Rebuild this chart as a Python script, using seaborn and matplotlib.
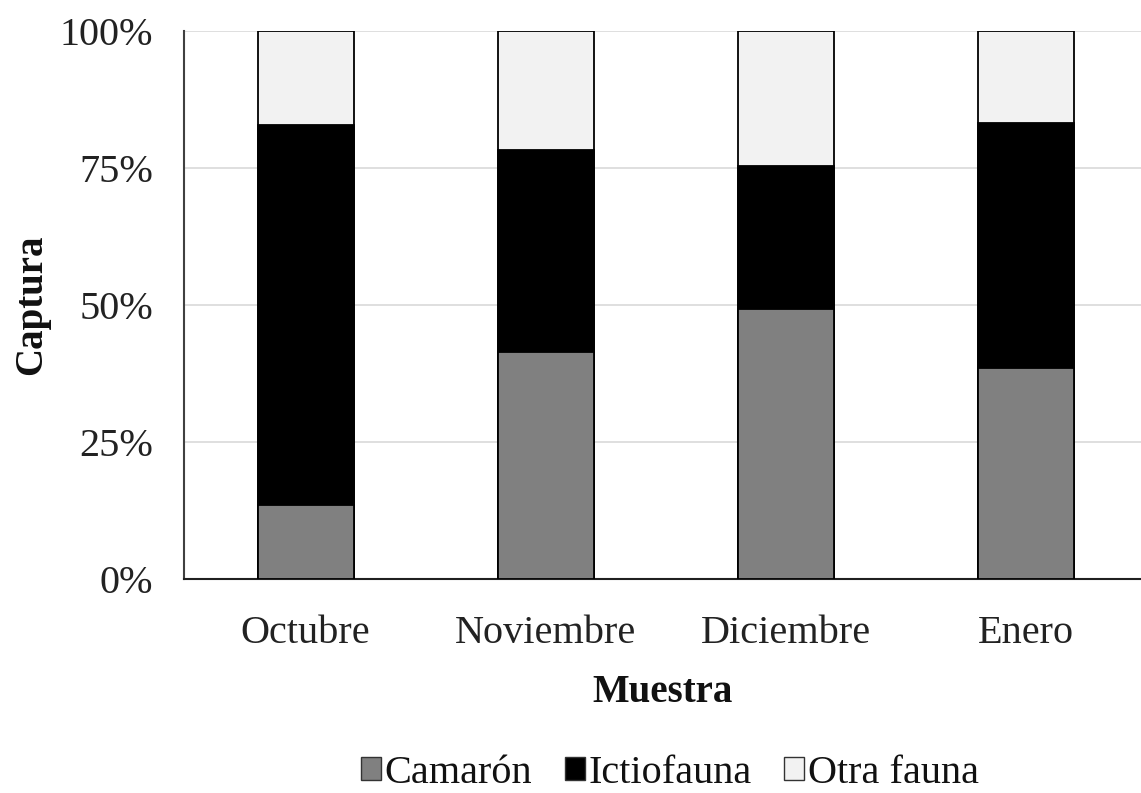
import matplotlib
matplotlib.use("Agg")
import matplotlib.pyplot as plt
from matplotlib.patches import Patch
import seaborn as sns
import pandas as pd

# Monthly catch composition (% of total)
meses = ["Octubre", "Noviembre", "Diciembre", "Enero"]
camaron = [13.5, 41.4, 49.3, 38.5]
ictiofauna = [69.3, 36.9, 26.1, 44.7]
otra_fauna = [17.2, 21.7, 24.6, 16.8]

colores = {"Camarón": "#808080", "Ictiofauna": "#000000", "Otra fauna": "#f2f2f2"}

sns.set_theme(style="white")
plt.rcParams["font.family"] = ["Liberation Serif", "DejaVu Serif"]

df = pd.DataFrame({
    "Muestra": meses,
    "Camarón": camaron,
    "Ictiofauna": ictiofauna,
    "Otra fauna": otra_fauna,
})
df["nivel_ictio"] = df["Camarón"] + df["Ictiofauna"]
df["nivel_total"] = df["nivel_ictio"] + df["Otra fauna"]

fig = plt.figure(figsize=(11.41, 7.93), dpi=100)
ax = fig.add_axes([0.161, 0.270, 0.839, 0.691])

# Stacked bars drawn as overlapping cumulative layers
for col, nombre in [("nivel_total", "Otra fauna"), ("nivel_ictio", "Ictiofauna"), ("Camarón", "Camarón")]:
    sns.barplot(data=df, x="Muestra", y=col, color=colores[nombre], saturation=1,
                width=0.4, edgecolor="#000000", linewidth=1.3, ax=ax, zorder=3)

ax.set_ylim(0, 100)
ax.set_xlim(-0.508, 3.48)
ax.set_yticks([0, 25, 50, 75, 100])
ax.set_yticklabels(["0%", "25%", "50%", "75%", "100%"])
ax.yaxis.grid(True, color="#d9d9d9", linewidth=1.2, zorder=0)
ax.xaxis.grid(False)
ax.tick_params(axis="y", labelsize=29, pad=22, length=0, colors="#222222")
ax.tick_params(axis="x", labelsize=29, pad=26, length=0, colors="#222222")

for s in ["top", "right"]:
    ax.spines[s].set_visible(False)
ax.spines["left"].set_color("#404040")
ax.spines["left"].set_linewidth(1.5)
ax.spines["bottom"].set_color("#202020")
ax.spines["bottom"].set_linewidth(1.5)

ax.set_xlabel("Muestra", fontsize=28, fontweight="bold", labelpad=16, color="#111111")
ax.set_ylabel("Captura", fontsize=28, fontweight="bold", labelpad=7, color="#111111")

handles = [Patch(facecolor=colores[n], edgecolor="#333333", linewidth=1.0, label=n)
           for n in ["Camarón", "Ictiofauna", "Otra fauna"]]
ax.legend(handles=handles, loc="center", bbox_to_anchor=(0.508, -0.355), ncol=3,
          frameon=False, fontsize=29, handlelength=0.5, handleheight=0.5,
          handletextpad=0.1, columnspacing=0.8, labelcolor="#111111")

fig.savefig("out.png", dpi=100)
